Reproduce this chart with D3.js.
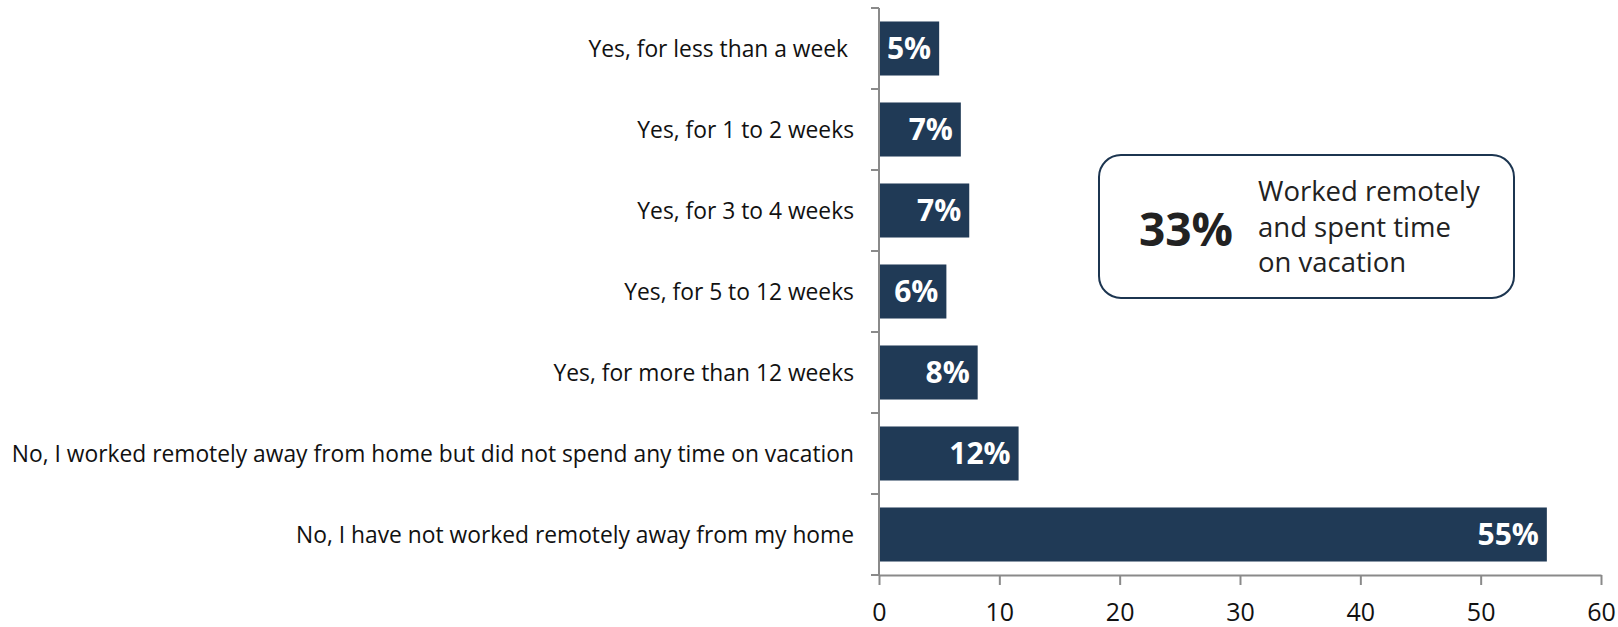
<!DOCTYPE html>
<html>
<head>
  <meta charset="UTF-8">
  <title>Remote work and vacation</title>
  <style>
    body { margin: 0; background: #fff; }
    svg text { font-family: "Open Sans", "Noto Sans", sans-serif; }
    .cat { font-size: 22.8px; fill: #111; white-space: pre; }
    .val { font-size: 30px; font-weight: bold; fill: #fff; }
    .tick-label { font-size: 25px; fill: #111; }
  </style>
</head>
<body>
  <svg></svg>
  <script src="https://d3js.org/d3.v7.min.js"></script>
  <script>
    // chart data
    const categories = [
      "Yes, for less than a week ",
      "Yes, for 1 to 2 weeks",
      "Yes, for 3 to 4 weeks",
      "Yes, for 5 to 12 weeks",
      "Yes, for more than 12 weeks",
      "No, I worked remotely away from home but did not spend any time on vacation",
      "No, I have not worked remotely away from my home"
    ];
    const values = [5.0, 6.8, 7.5, 5.6, 8.2, 11.6, 55.5];
    const valueLabels = ["5%", "7%", "7%", "6%", "8%", "12%", "55%"];
    const xTicks = [0, 10, 20, 30, 40, 50, 60];
    const calloutValue = "33%";
    const calloutLines = ["Worked remotely", "and spent time", "on vacation"];

    let width = 1618, height = 627;
    let svg = d3.select("svg")
        .attr("width", width)
        .attr("height", height);

    let x = d3.scaleLinear().domain([0, 60]).range([879, 1601]);
    let y = d3.scaleBand().domain(categories).range([8, 575]).paddingInner(0.333).paddingOuter(0.1665);
    let barColor = "#203a56";
    let axisColor = "#8a8a8a";

    // bars
    svg.append("g")
      .selectAll("rect")
      .data(categories)
      .enter()
      .append("rect")
      .attr("x", x(0))
      .attr("y", d => y(d))
      .attr("width", (d, i) => x(values[i]) - x(0))
      .attr("height", y.bandwidth())
      .attr("fill", barColor);

    // value labels inside bar end
    svg.append("g")
      .selectAll("text")
      .data(categories)
      .enter()
      .append("text")
      .attr("class", "val")
      .attr("x", (d, i) => x(values[i]) - 8)
      .attr("y", d => y(d) + y.bandwidth() / 2)
      .attr("dy", "0.36em")
      .attr("text-anchor", "end")
      .text((d, i) => valueLabels[i]);

    // category labels
    svg.append("g")
      .selectAll("text")
      .data(categories)
      .enter()
      .append("text")
      .attr("class", "cat")
      .attr("x", 854)
      .attr("y", d => y(d) + y.bandwidth() / 2)
      .attr("dy", "0.36em")
      .attr("text-anchor", "end")
      .text(d => d);

    // y axis: line with ticks at band boundaries
    let step = y.step();
    let boundaries = d3.range(categories.length + 1).map(i => 8 + i * step);
    let yAxis = svg.append("g");
    yAxis.append("line")
      .attr("x1", x(0)).attr("x2", x(0))
      .attr("y1", boundaries[0]).attr("y2", boundaries[boundaries.length - 1])
      .attr("stroke", axisColor).attr("stroke-width", 2);
    yAxis.selectAll("line.tk")
      .data(boundaries)
      .enter()
      .append("line")
      .attr("class", "tk")
      .attr("x1", x(0) - 8).attr("x2", x(0))
      .attr("y1", d => d).attr("y2", d => d)
      .attr("stroke", axisColor).attr("stroke-width", 2);

    // x axis
    let xAxis = svg.append("g")
      .attr("transform", `translate(0, ${boundaries[boundaries.length - 1]})`)
      .call(d3.axisBottom(x).tickValues(xTicks).tickSize(10).tickSizeOuter(0).tickPadding(18));
    xAxis.select(".domain").attr("stroke", axisColor).attr("stroke-width", 2);
    xAxis.selectAll(".tick line").attr("stroke", axisColor).attr("stroke-width", 2);
    xAxis.selectAll(".tick text")
      .attr("class", "tick-label")
      .attr("font-size", null)
      .attr("font-family", null)
      .attr("fill", "#111");

    // callout box
    let box = svg.append("g");
    box.append("rect")
      .attr("x", 1099).attr("y", 155)
      .attr("width", 415).attr("height", 143)
      .attr("rx", 22).attr("ry", 22)
      .attr("fill", "#fff")
      .attr("stroke", "#1c3550")
      .attr("stroke-width", 2);
    box.append("text")
      .attr("x", 1139).attr("y", 246)
      .attr("font-size", 46).attr("font-weight", "bold")
      .attr("fill", "#222")
      .text(calloutValue);
    box.selectAll("text.line")
      .data(calloutLines)
      .enter()
      .append("text")
      .attr("class", "line")
      .attr("x", 1258)
      .attr("y", (d, i) => 201 + i * 35.5)
      .attr("font-size", 27.5)
      .attr("fill", "#222")
      .text(d => d);
  </script>
</body>
</html>
